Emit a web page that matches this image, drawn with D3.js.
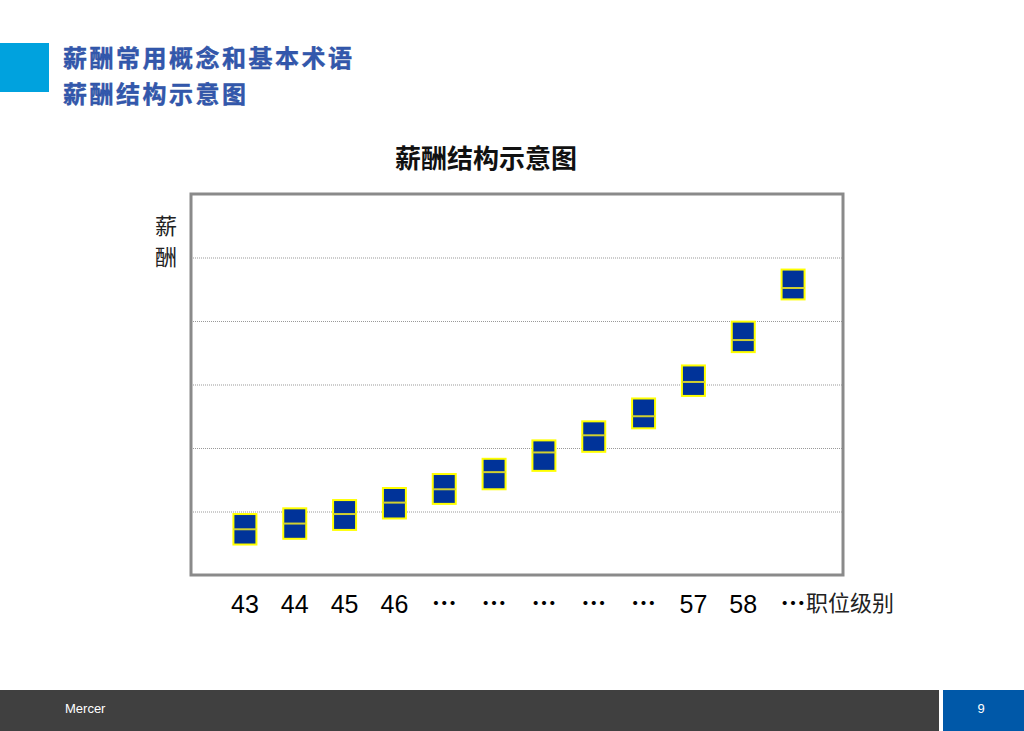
<!DOCTYPE html>
<html><head><meta charset="utf-8">
<script src="https://cdn.jsdelivr.net/npm/d3@7"></script>
<style>
html,body{margin:0;padding:0;background:#fff;}
svg{display:block;}
</style></head>
<body>
<svg id="c" width="1024" height="731"></svg>
<script>
// ---- data ----
const levels = ["43","44","45","46","…","…","…","…","…","57","58","…"];
const lowValues  = [0.48,0.57,0.71,0.89,1.12,1.35,1.64,1.94,2.31,2.82,3.51,4.34];
const midValues  = [0.72,0.81,0.96,1.14,1.35,1.62,1.93,2.20,2.50,3.04,3.70,4.52];
const highValues = [0.96,1.05,1.18,1.37,1.59,1.83,2.12,2.42,2.78,3.30,3.99,4.81];
const gridTicks = [1,2,3,4,5];
const headerLines = ["薪酬常用概念和基本术语","薪酬结构示意图"];
const chartTitle = "薪酬结构示意图";
const yTitle = ["薪","酬"];
const xTitle = "职位级别";
const footerLeft = "Mercer";
const footerRight = "9";

const svg = d3.select("#c");
const CJK = "'Noto Sans CJK SC','Noto Sans',sans-serif";
const LAT = "'Liberation Sans',Arial,sans-serif";

// header
svg.append("rect").attr("x",0).attr("y",43).attr("width",49).attr("height",49).attr("fill","#00a2de");
svg.selectAll(".hdr").data(headerLines).join("text")
  .attr("x",63).attr("y",(d,i)=>67+i*36)
  .attr("font-family",CJK).attr("font-weight","bold").attr("font-size",24)
  .attr("letter-spacing",2.5)
  .attr("fill","#3358ad").attr("stroke","#2a4d9e").attr("stroke-width",0.4)
  .text(d=>d);

// chart title
svg.append("text").attr("x",486).attr("y",168).attr("text-anchor","middle")
  .attr("font-family",CJK).attr("font-weight","bold").attr("font-size",26)
  .attr("fill","#111").text(chartTitle);

// plot area
const L=191, R=843, T=194, B=575;
const x = d3.scaleBand().domain(levels.map((d,i)=>i)).range([220,818]);
const y = d3.scaleLinear().domain([0,6]).range([B,T]);

// grid
const grid = svg.append("g").attr("transform",`translate(${L},0)`)
  .call(d3.axisLeft(y).tickValues(gridTicks).tickSize(-(R-L)).tickFormat(""));
grid.select(".domain").remove();
grid.selectAll(".tick line").attr("stroke","#999").attr("stroke-dasharray","1,1").attr("stroke-width",1);

// frame
svg.append("rect").attr("x",L).attr("y",T).attr("width",R-L).attr("height",B-T)
  .attr("fill","none").attr("stroke","#8a8a8a").attr("stroke-width",3);

// boxes
const bw = 23;
const g = svg.append("g");
const boxes = g.selectAll(".box").data(levels.map((d,i)=>i)).join("g");
boxes.append("rect")
  .attr("x",i=>x(i)+x.bandwidth()/2-bw/2)
  .attr("y",i=>y(highValues[i]))
  .attr("width",bw)
  .attr("height",i=>y(lowValues[i])-y(highValues[i]))
  .attr("fill","#003399").attr("stroke","#ffff00").attr("stroke-width",2);
boxes.append("line")
  .attr("x1",i=>x(i)+x.bandwidth()/2-bw/2)
  .attr("x2",i=>x(i)+x.bandwidth()/2+bw/2)
  .attr("y1",i=>y(midValues[i])).attr("y2",i=>y(midValues[i]))
  .attr("stroke","#d0d030").attr("stroke-width",2);

// x axis labels
const xa = svg.append("g").attr("transform",`translate(0,${B})`)
  .call(d3.axisBottom(x).tickSize(0).tickPadding(20).tickFormat(i=>levels[i]));
xa.select(".domain").remove();
xa.selectAll("text")
  .attr("font-family",i=>levels[i]==="…"?CJK:LAT)
  .attr("font-weight",i=>levels[i]==="…"?"bold":"normal")
  .attr("font-size",25).attr("fill","#000");

svg.append("text").attr("x",x(11)+x.bandwidth()/2+13).attr("y",611)
  .attr("font-family",CJK).attr("font-size",22).attr("fill","#222")
  .text(xTitle);

// y title
svg.selectAll(".yt").data(yTitle).join("text")
  .attr("x",166).attr("y",(d,i)=>234+i*31).attr("text-anchor","middle")
  .attr("font-family",CJK).attr("font-size",22).attr("fill","#222")
  .text(d=>d);

// footer
svg.append("rect").attr("x",0).attr("y",690).attr("width",939).attr("height",41).attr("fill","#404040");
svg.append("rect").attr("x",943).attr("y",690).attr("width",81).attr("height",41).attr("fill","#0058a8");
svg.append("text").attr("x",65).attr("y",713).attr("font-family",LAT)
  .attr("font-size",13).attr("fill","#fff").text(footerLeft);
svg.append("text").attr("x",981).attr("y",713).attr("text-anchor","middle").attr("font-family",LAT)
  .attr("font-size",13).attr("fill","#fff").text(footerRight);
</script>
</body></html>
